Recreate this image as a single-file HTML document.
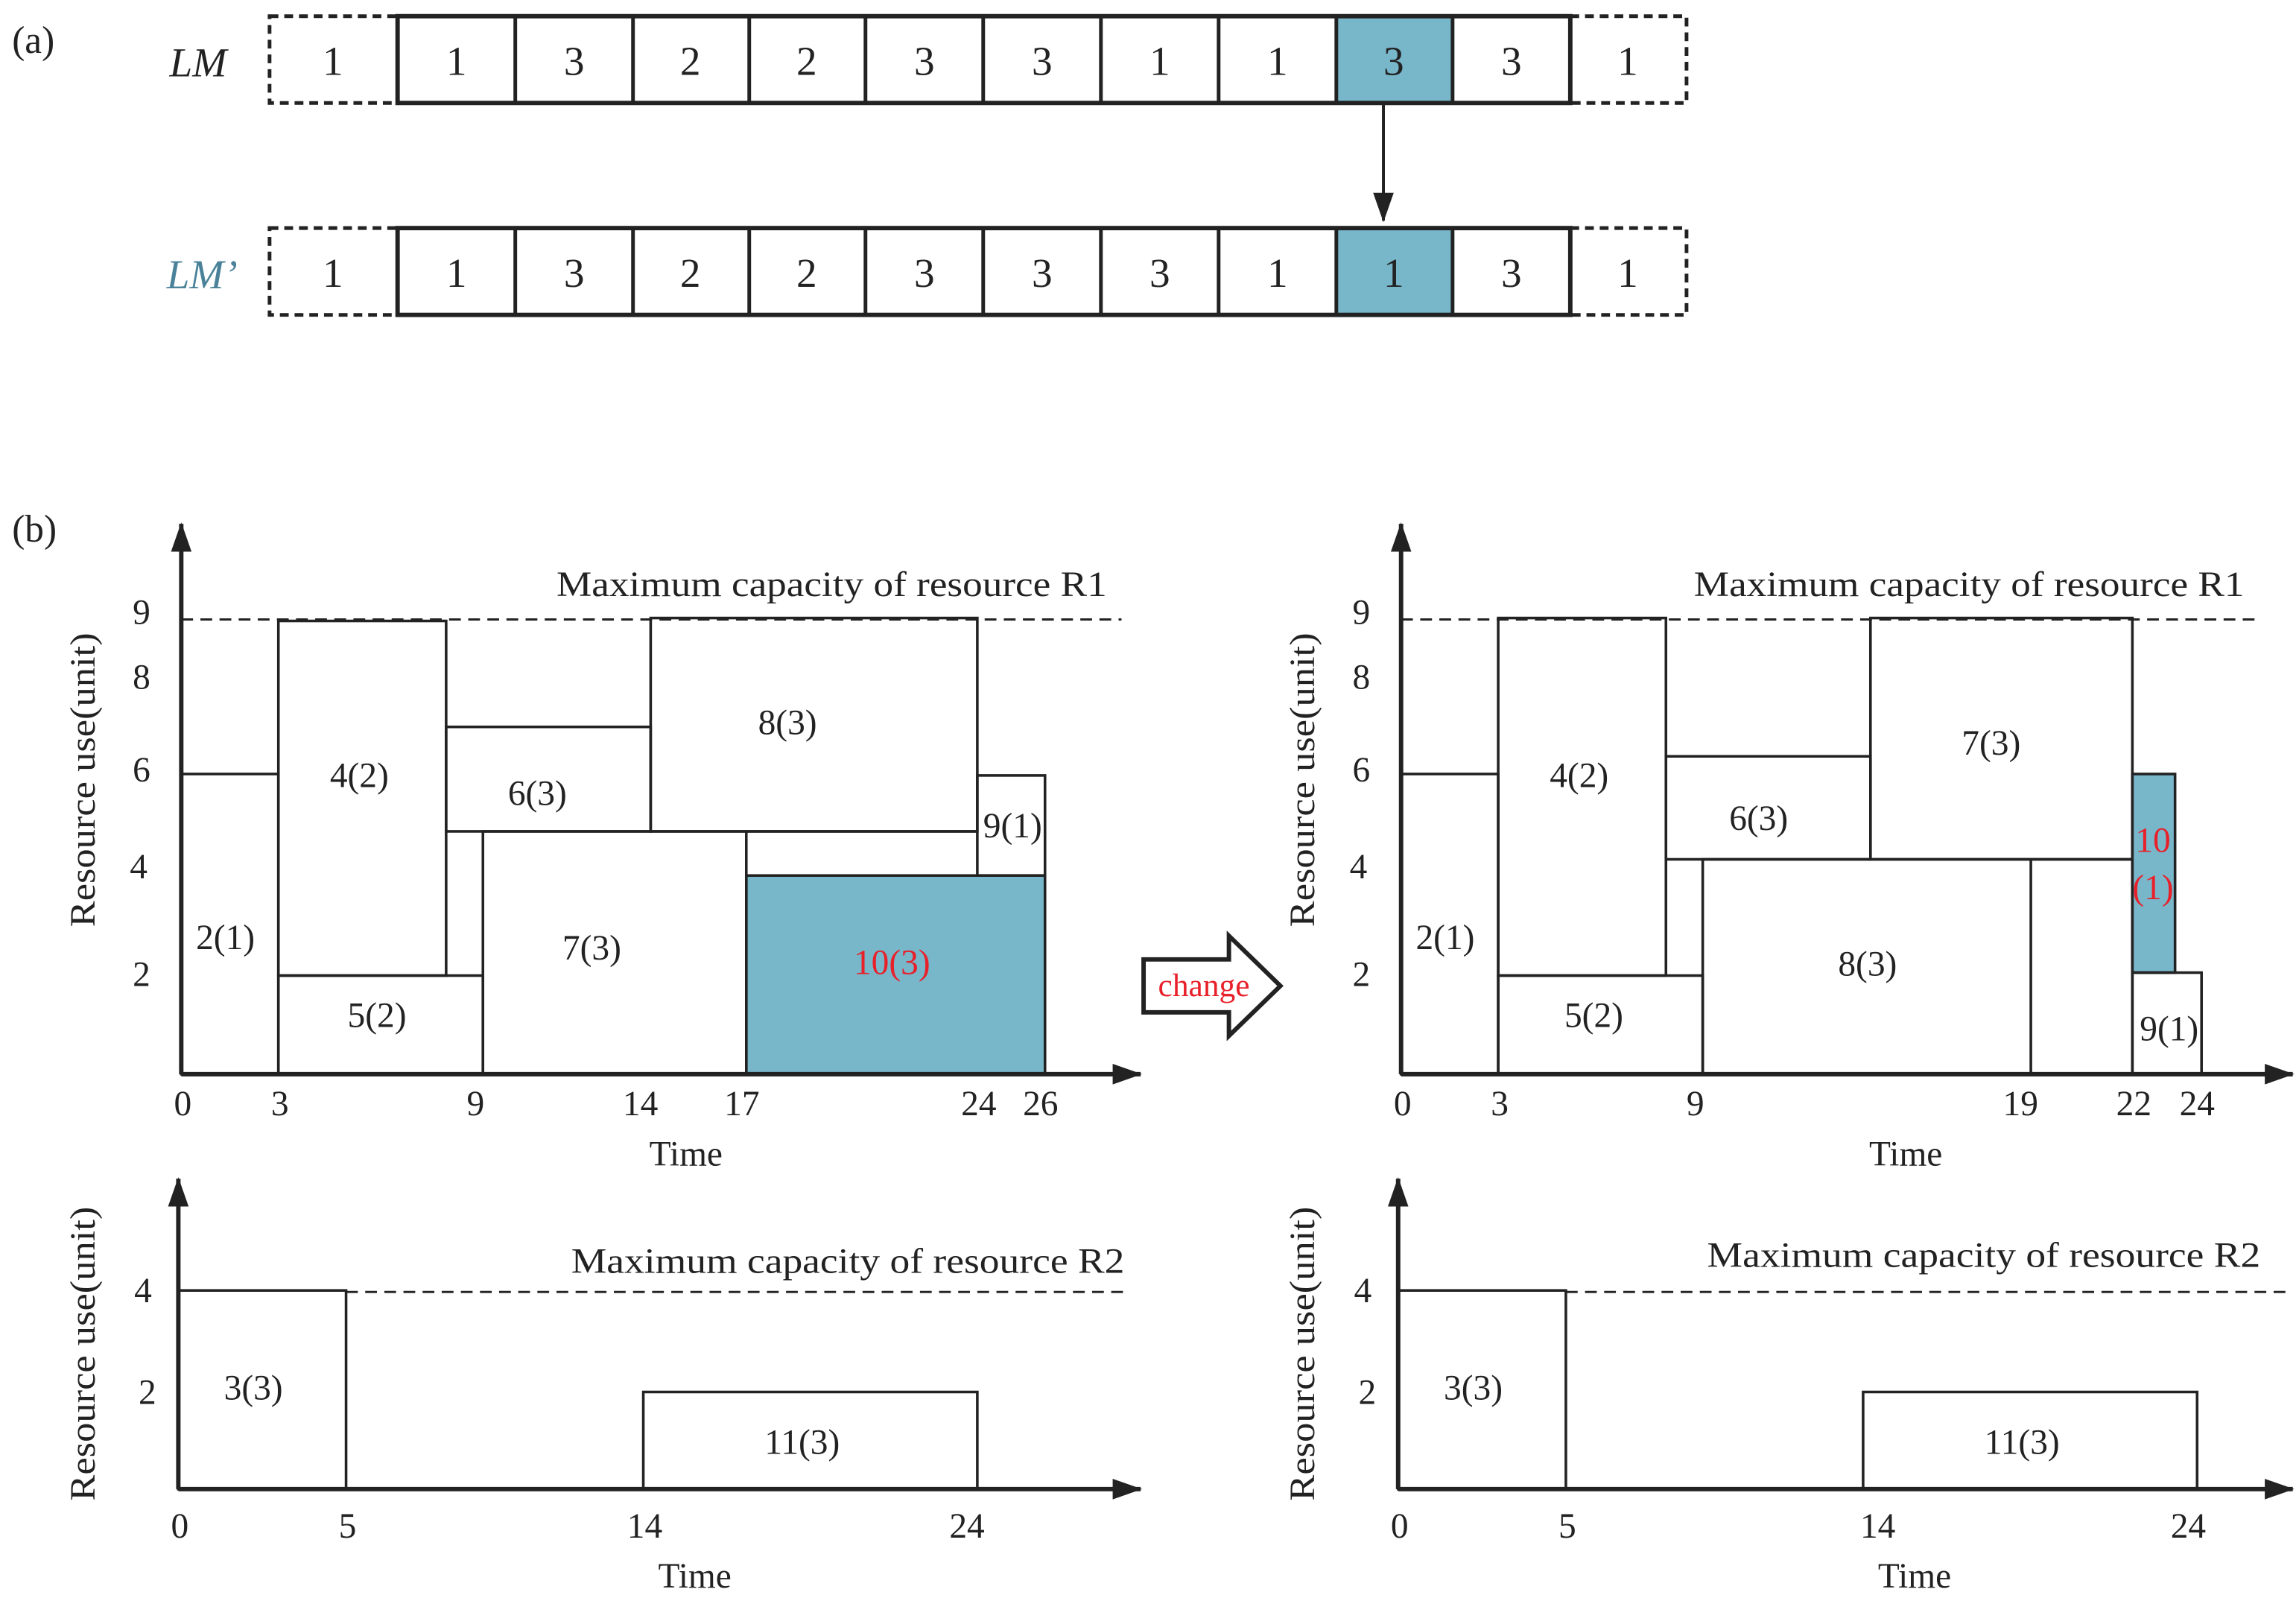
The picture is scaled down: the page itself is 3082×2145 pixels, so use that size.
<!DOCTYPE html>
<html><head><meta charset="utf-8"><style>html,body{margin:0;padding:0;background:#fff}svg{display:block}text{font-family:"Liberation Serif",serif;fill:#222}</style></head>
<body>
<svg width="3082" height="2145" viewBox="0 0 1560 1086" xmlns="http://www.w3.org/2000/svg">
<defs><marker id="ah" markerWidth="10" markerHeight="10" refX="9" refY="5" orient="auto" markerUnits="userSpaceOnUse"><path d="M0,0 L10,5 L0,10 z" fill="#222"/></marker>
<marker id="ah2" viewBox="0 0 20 14" markerWidth="20" markerHeight="14" refX="19" refY="7" orient="auto" markerUnits="userSpaceOnUse"><path d="M0,0 L20,7 L0,14 z" fill="#222"/></marker></defs>
<text x="8" y="36" font-size="26">(a)</text>
<text x="8" y="368" font-size="26">(b)</text>
<text x="115" y="52" font-size="28" font-style="italic">LM</text>
<text x="113" y="196" font-size="28" font-style="italic" style="fill:#4a8299">LM’</text>
<g stroke="#222" fill="none">
<rect x="183" y="11" width="87" height="59" stroke-width="2.5" stroke-dasharray="6,4"/>
<rect x="1067" y="11" width="79" height="59" stroke-width="2.5" stroke-dasharray="6,4"/>
<rect x="183" y="155" width="87" height="59" stroke-width="2.5" stroke-dasharray="6,4"/>
<rect x="1067" y="155" width="79" height="59" stroke-width="2.5" stroke-dasharray="6,4"/>
<rect x="908" y="11" width="79" height="59" fill="#78b6c9" stroke="none"/>
<rect x="908" y="155" width="79" height="59" fill="#78b6c9" stroke="none"/>
<rect x="270" y="11" width="797" height="59" stroke-width="3"/>
<rect x="270" y="155" width="797" height="59" stroke-width="3"/>
<path d="M350,11V70M430,11V70M509,11V70M588,11V70M668,11V70M748,11V70M828,11V70M908,11V70M987,11V70 M350,155V214M430,155V214M509,155V214M588,155V214M668,155V214M748,155V214M828,155V214M908,155V214M987,155V214" stroke-width="2.5"/>
<line x1="940" y1="70" x2="940" y2="150" stroke-width="2" marker-end="url(#ah2)"/>
</g>
<g font-size="28" text-anchor="middle">
<text x="226" y="51">1</text><text x="310" y="51">1</text><text x="390" y="51">3</text><text x="469" y="51">2</text><text x="548" y="51">2</text><text x="628" y="51">3</text><text x="708" y="51">3</text><text x="788" y="51">1</text><text x="868" y="51">1</text><text x="947" y="51">3</text><text x="1027" y="51">3</text><text x="1106" y="51">1</text>
<text x="226" y="195">1</text><text x="310" y="195">1</text><text x="390" y="195">3</text><text x="469" y="195">2</text><text x="548" y="195">2</text><text x="628" y="195">3</text><text x="708" y="195">3</text><text x="788" y="195">3</text><text x="868" y="195">1</text><text x="947" y="195">1</text><text x="1027" y="195">3</text><text x="1106" y="195">1</text>
</g>
<!-- left R1 -->
<g stroke="#222" fill="none" stroke-width="1.8">
<rect x="507" y="595" width="203" height="135" fill="#78b6c9"/>
<rect x="123" y="526" width="66" height="204"/>
<rect x="189" y="422" width="114" height="241"/>
<rect x="189" y="663" width="139" height="67"/>
<rect x="303" y="494" width="139" height="71"/>
<rect x="328" y="565" width="179" height="165"/>
<rect x="442" y="420" width="222" height="145"/>
<line x1="507" y1="565" x2="664" y2="565"/>
<rect x="664" y="527" width="46" height="68"/>
<line x1="123" y1="421" x2="762" y2="421" stroke-dasharray="8,5" stroke-width="1.5"/>
<line x1="123" y1="730" x2="123" y2="356" stroke-width="3" marker-end="url(#ah2)"/>
<line x1="123" y1="730" x2="775" y2="730" stroke-width="3" marker-end="url(#ah2)"/>
</g>
<g font-size="24" text-anchor="middle">
<text x="153" y="645">2(1)</text><text x="244" y="535">4(2)</text><text x="256" y="698">5(2)</text><text x="365" y="547">6(3)</text><text x="402" y="652">7(3)</text><text x="535" y="499">8(3)</text><text x="688" y="569">9(1)</text><text x="606" y="662" style="fill:#e8202a">10(3)</text>
<text x="96" y="424">9</text><text x="96" y="468">8</text><text x="96" y="531">6</text><text x="94" y="597">4</text><text x="96" y="670">2</text>
<text x="124" y="758">0</text><text x="190" y="758">3</text><text x="323" y="758">9</text><text x="435" y="758">14</text><text x="504" y="758">17</text><text x="665" y="758">24</text><text x="707" y="758">26</text>
<text x="466" y="792">Time</text>
<text x="565" y="405" textLength="374" lengthAdjust="spacingAndGlyphs">Maximum capacity of resource R1</text>
<text transform="translate(64,530) rotate(-90)" textLength="200" lengthAdjust="spacingAndGlyphs">Resource use(unit)</text>
</g>
<!-- change arrow -->
<path d="M777,652 H835 V636 L870,670 L835,704 V688 H777 Z" fill="#fff" stroke="#222" stroke-width="3"/>
<text x="818" y="677" font-size="22" text-anchor="middle" style="fill:#e8202a">change</text>
<!-- right R1 -->
<g stroke="#222" fill="none" stroke-width="1.8">
<rect x="952" y="526" width="66" height="204"/>
<rect x="1018" y="420" width="114" height="243"/>
<rect x="1018" y="663" width="139" height="67"/>
<rect x="1132" y="514" width="139" height="70"/>
<rect x="1271" y="420" width="178" height="164"/>
<rect x="1157" y="584" width="292" height="146"/>
<line x1="1380" y1="584" x2="1380" y2="730"/>
<rect x="1449" y="526" width="29" height="135" fill="#78b6c9"/>
<rect x="1449" y="661" width="47" height="69"/>
<line x1="952" y1="421" x2="1533" y2="421" stroke-dasharray="8,5" stroke-width="1.5"/>
<line x1="952" y1="730" x2="952" y2="356" stroke-width="3" marker-end="url(#ah2)"/>
<line x1="952" y1="730" x2="1558" y2="730" stroke-width="3" marker-end="url(#ah2)"/>
</g>
<g font-size="24" text-anchor="middle">
<text x="982" y="645">2(1)</text><text x="1073" y="535">4(2)</text><text x="1083" y="698">5(2)</text><text x="1195" y="564">6(3)</text><text x="1353" y="513">7(3)</text><text x="1269" y="663">8(3)</text><text x="1474" y="707">9(1)</text>
<text x="1463" y="579" style="fill:#e8202a">10</text><text x="1463" y="611" style="fill:#e8202a">(1)</text>
<text x="925" y="424">9</text><text x="925" y="468">8</text><text x="925" y="531">6</text><text x="923" y="597">4</text><text x="925" y="670">2</text>
<text x="953" y="758">0</text><text x="1019" y="758">3</text><text x="1152" y="758">9</text><text x="1373" y="758">19</text><text x="1450" y="758">22</text><text x="1493" y="758">24</text>
<text x="1295" y="792">Time</text>
<text x="1338" y="405" textLength="374" lengthAdjust="spacingAndGlyphs">Maximum capacity of resource R1</text>
<text transform="translate(893,530) rotate(-90)" textLength="200" lengthAdjust="spacingAndGlyphs">Resource use(unit)</text>
</g>
<!-- left R2 -->
<g stroke="#222" fill="none" stroke-width="1.8">
<rect x="121" y="877" width="114" height="135"/>
<rect x="437" y="946" width="227" height="66"/>
<line x1="235" y1="878" x2="765" y2="878" stroke-dasharray="8,5" stroke-width="1.5"/>
<line x1="121" y1="1012" x2="121" y2="801" stroke-width="3" marker-end="url(#ah2)"/>
<line x1="121" y1="1012" x2="775" y2="1012" stroke-width="3" marker-end="url(#ah2)"/>
</g>
<g font-size="24" text-anchor="middle">
<text x="172" y="951">3(3)</text><text x="545" y="988">11(3)</text>
<text x="97" y="885">4</text><text x="100" y="954">2</text>
<text x="122" y="1045">0</text><text x="236" y="1045">5</text><text x="438" y="1045">14</text><text x="657" y="1045">24</text>
<text x="472" y="1079">Time</text>
<text x="576" y="865" textLength="376" lengthAdjust="spacingAndGlyphs">Maximum capacity of resource R2</text>
<text transform="translate(64,920) rotate(-90)" textLength="200" lengthAdjust="spacingAndGlyphs">Resource use(unit)</text>
</g>
<!-- right R2 -->
<g stroke="#222" fill="none" stroke-width="1.8">
<rect x="950" y="877" width="114" height="135"/>
<rect x="1266" y="946" width="227" height="66"/>
<line x1="1064" y1="878" x2="1558" y2="878" stroke-dasharray="8,5" stroke-width="1.5"/>
<line x1="950" y1="1012" x2="950" y2="801" stroke-width="3" marker-end="url(#ah2)"/>
<line x1="950" y1="1012" x2="1558" y2="1012" stroke-width="3" marker-end="url(#ah2)"/>
</g>
<g font-size="24" text-anchor="middle">
<text x="1001" y="951">3(3)</text><text x="1374" y="988">11(3)</text>
<text x="926" y="885">4</text><text x="929" y="954">2</text>
<text x="951" y="1045">0</text><text x="1065" y="1045">5</text><text x="1276" y="1045">14</text><text x="1487" y="1045">24</text>
<text x="1301" y="1079">Time</text>
<text x="1348" y="861" textLength="376" lengthAdjust="spacingAndGlyphs">Maximum capacity of resource R2</text>
<text transform="translate(893,920) rotate(-90)" textLength="200" lengthAdjust="spacingAndGlyphs">Resource use(unit)</text>
</g>
</svg>
</body></html>
